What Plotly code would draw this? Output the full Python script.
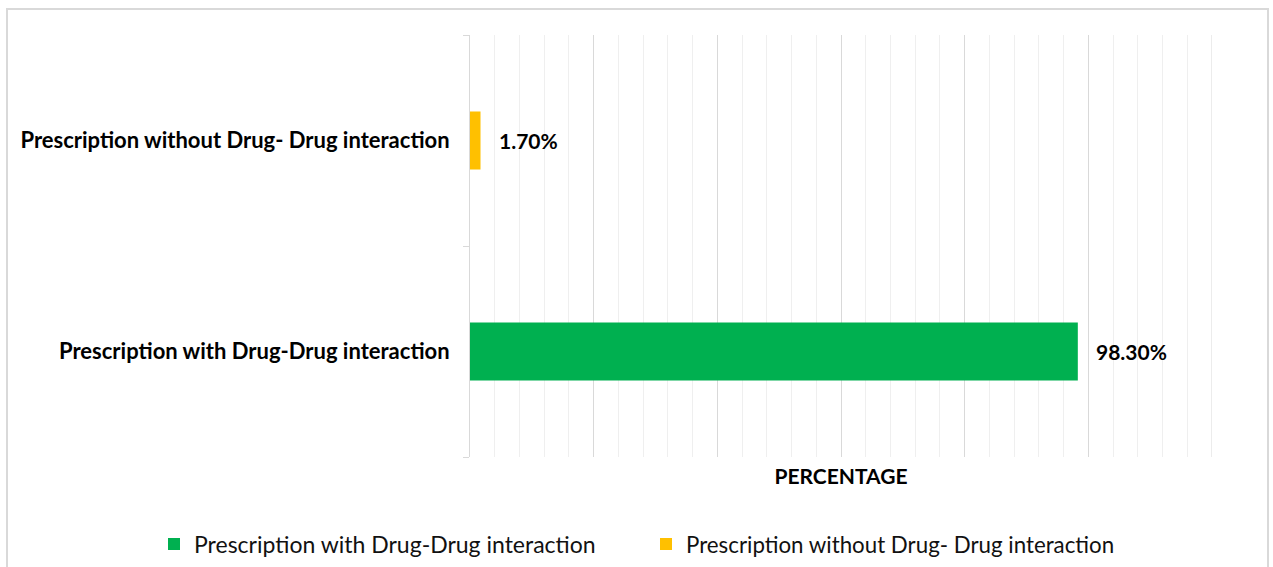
import plotly.graph_objects as go

# Share of prescriptions with / without drug-drug interactions
categories = ["Prescription with Drug-Drug interaction",
              "Prescription without Drug- Drug interaction"]
values = [98.3, 1.7]
colors = ["#00B050", "#FFC000"]
x_max = 120

FONT = "Lato"
plot_left, plot_right, plot_top, plot_bottom = 470, 1212, 35, 457
W, H = 1273, 567
pw = plot_right - plot_left
ph = plot_bottom - plot_top


def px_x(x):
    return (x - plot_left) / pw


def px_y(y):
    return (plot_bottom - y) / ph


legend_names = ["legend", "legend2"]
legend_left = [154, 646]

fig = go.Figure()
for cat, val, col, lg in zip(categories, values, colors, legend_names):
    fig.add_trace(go.Bar(
        y=[cat], x=[val], orientation="h", name=cat, legend=lg,
        marker=dict(color=col, line=dict(width=0)),
        width=0.275, cliponaxis=False,
    ))
    fig.add_annotation(
        x=val, y=cat, xref="x", yref="y", text=f"{val:.2f}%",
        showarrow=False, xanchor="left", xshift=16,
        font=dict(family=FONT, size=21, color="#000000", weight="bold"),
    )

# closing major gridline at the end of the value axis
fig.add_vline(x=x_max, line=dict(color="#d9d9d9", width=1), layer="below")

# outer chart border
fig.add_shape(
    type="rect", xref="paper", yref="paper",
    x0=px_x(7), x1=px_x(1268), y0=px_y(620), y1=px_y(9),
    line=dict(color="#d9d9d9", width=2), fillcolor="rgba(0,0,0,0)", layer="below",
)

legend_style = dict(
    orientation="h", xref="container", yref="container",
    yanchor="middle", y=(H - 544) / H, xanchor="left",
    bgcolor="rgba(0,0,0,0)", itemwidth=30,
)

fig.update_layout(
    width=W, height=H,
    margin=dict(l=plot_left, r=W - plot_right, t=plot_top, b=H - plot_bottom),
    paper_bgcolor="white", plot_bgcolor="white",
    barmode="overlay",
    font=dict(family=FONT, color="#000000"),
    showlegend=True,
    legend=dict(x=legend_left[0] / W, font=dict(family=FONT, size=23, color="#111111"),
                **legend_style),
    legend2=dict(x=legend_left[1] / W, font=dict(family=FONT, size=22.3, color="#111111"),
                 **legend_style),
    xaxis=dict(
        range=[0, x_max], dtick=20, showgrid=True, gridcolor="#d9d9d9", gridwidth=1,
        minor=dict(dtick=4, showgrid=True, gridcolor="#efefef", gridwidth=1),
        showticklabels=False, zeroline=False, showline=False, ticks="",
        automargin=False,
        title=dict(text="<b>PERCENTAGE</b>", font=dict(family=FONT, size=21, color="#000000"),
                   standoff=12),
    ),
    yaxis=dict(
        categoryorder="array", categoryarray=categories,
        showline=True, linecolor="#d9d9d9", linewidth=1,
        ticks="outside", ticklen=6, tickcolor="#d9d9d9", tickson="boundaries",
        showgrid=False, ticklabelstandoff=15, automargin=False,
        tickfont=dict(family=FONT, size=22, color="#000000", weight="bold"),
    ),
)

fig.write_html("out.html")
